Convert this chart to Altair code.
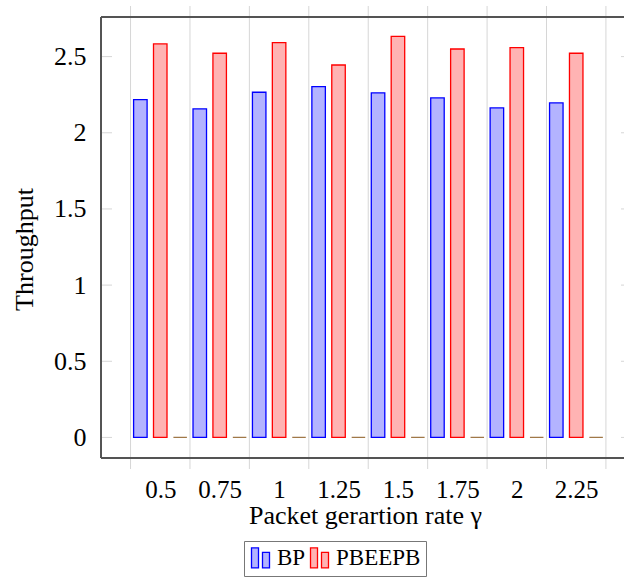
import json
import altair as alt
import pandas as pd

# ---- data ----
rates = ["0.5", "0.75", "1", "1.25", "1.5", "1.75", "2", "2.25"]
bp = [2.218, 2.157, 2.266, 2.303, 2.262, 2.229, 2.163, 2.196]
pbeepb = [2.583, 2.522, 2.592, 2.445, 2.633, 2.550, 2.559, 2.522]
third = [0, 0, 0, 0, 0, 0, 0, 0]
y_ticks = [0, 0.5, 1, 1.5, 2, 2.5]
series_names = ["BP", "PBEEPB"]

FONT = "Liberation Serif"
W, H = 523, 441
XDOM = [-0.913, 7.72]
YDOM = [-0.135, 2.76]

rows = []
for i, r in enumerate(rates):
    rows.append({"i": i, "rate": r, "series": "BP", "value": bp[i]})
    rows.append({"i": i, "rate": r, "series": "PBEEPB", "value": pbeepb[i]})
df = pd.DataFrame(rows)
df3 = pd.DataFrame({"i": list(range(len(rates))), "rate": rates, "value": third})
grid_df = pd.DataFrame({"b": [k - 0.5 for k in range(len(rates) + 1)]})
yt_df = pd.DataFrame({"t": y_ticks})

xscale = alt.Scale(domain=XDOM, nice=False, zero=False)
yscale = alt.Scale(domain=YDOM, nice=False, zero=False)

label_expr = json.dumps(rates) + "[datum.value]"

xaxis = alt.Axis(values=list(range(len(rates))), labelExpr=label_expr, title="Packet gerartion rate γ",
                 grid=False, ticks=False, domain=False, labelPadding=19,
                 titleY=65, titleBaseline="alphabetic", titleX=264,
                 labelFont=FONT, labelFontSize=25, titleFont=FONT, titleFontSize=26,
                 titleFontWeight="normal", labelColor="black", titleColor="black")
yaxis = alt.Axis(values=y_ticks, format="~g", title="Throughput", grid=False, ticks=False, domain=False,
                 labelPadding=15, titleX=-69, titleY=232, titleBaseline="alphabetic",
                 labelFont=FONT, labelFontSize=26,
                 titleFont=FONT, titleFontSize=26, titleFontWeight="normal",
                 labelColor="black", titleColor="black")

grid = alt.Chart(grid_df).mark_rule(color="#d6d6d6", strokeWidth=1).encode(
    x=alt.X("b:Q", scale=xscale, axis=xaxis),
    y=alt.value(-11), y2=alt.value(H + 11))

ytl = alt.Chart(yt_df).mark_rule(color="#d6d6d6", strokeWidth=1).encode(
    y=alt.Y("t:Q", scale=yscale, axis=yaxis),
    x=alt.value(0), x2=alt.value(11))
ytr = alt.Chart(yt_df).mark_rule(color="#d6d6d6", strokeWidth=1).encode(
    y=alt.Y("t:Q", scale=yscale),
    x=alt.value(W - 3), x2=alt.value(W))

bar_path = "M-0.9,-1H-0.2V1H-0.9Z M0.2,-0.55H0.9V1H0.2Z"
legend = alt.Legend(title=None, orient="none", legendX=143, legendY=524, direction="horizontal",
                    strokeColor="#777", padding=5, labelFont=FONT, labelFontSize=23,
                    labelColor="black", symbolType=bar_path, symbolSize=400,
                    symbolStrokeWidth=1.3, columnPadding=1, labelOffset=5, symbolOpacity=1)

bars = alt.Chart(df).transform_calculate(
    pos="datum.i + (datum.series == 'BP' ? -0.335 : 0)"
).mark_bar(width=13.5, strokeWidth=1.3, opacity=1).encode(
    x=alt.X("pos:Q", scale=xscale),
    y=alt.Y("value:Q", scale=yscale),
    y2=alt.datum(0),
    fill=alt.Fill("series:N", scale=alt.Scale(domain=series_names, range=["#b3b3ff", "#ffb3b3"]), legend=legend),
    stroke=alt.Stroke("series:N", scale=alt.Scale(domain=series_names, range=["#0000ff", "#ff0000"]), legend=legend),
)

zero_bars = alt.Chart(df3).transform_calculate(pos="datum.i + 0.335").mark_bar(
    width=13.5, strokeWidth=1.3, fill="#d9bfa6", stroke="#a07848").encode(
    x=alt.X("pos:Q", scale=xscale),
    y=alt.Y("value:Q", scale=yscale),
    y2=alt.datum(0))

FR = "#555555"
frame_left = alt.Chart(grid_df).mark_rule(color=FR, strokeWidth=1.6).encode(
    x=alt.value(0), y=alt.value(0), y2=alt.value(H))
frame_top = alt.Chart(grid_df).mark_rule(color=FR, strokeWidth=1.6).encode(
    x=alt.value(0), x2=alt.value(W), y=alt.value(0))
frame_bot = alt.Chart(grid_df).mark_rule(color=FR, strokeWidth=1.6).encode(
    x=alt.value(0), x2=alt.value(W), y=alt.value(H))

chart = alt.layer(grid, ytl, ytr, bars, zero_bars, frame_left, frame_top, frame_bot).properties(
    width=W, height=H,
    autosize=alt.AutoSizeParams(type="none"),
    padding={"left": 101, "top": 17, "right": 0, "bottom": 577 - 17 - H},
).configure_view(stroke=None).configure(background="white")

chart.save("out.html", embed_options={"renderer": "svg", "actions": False})
